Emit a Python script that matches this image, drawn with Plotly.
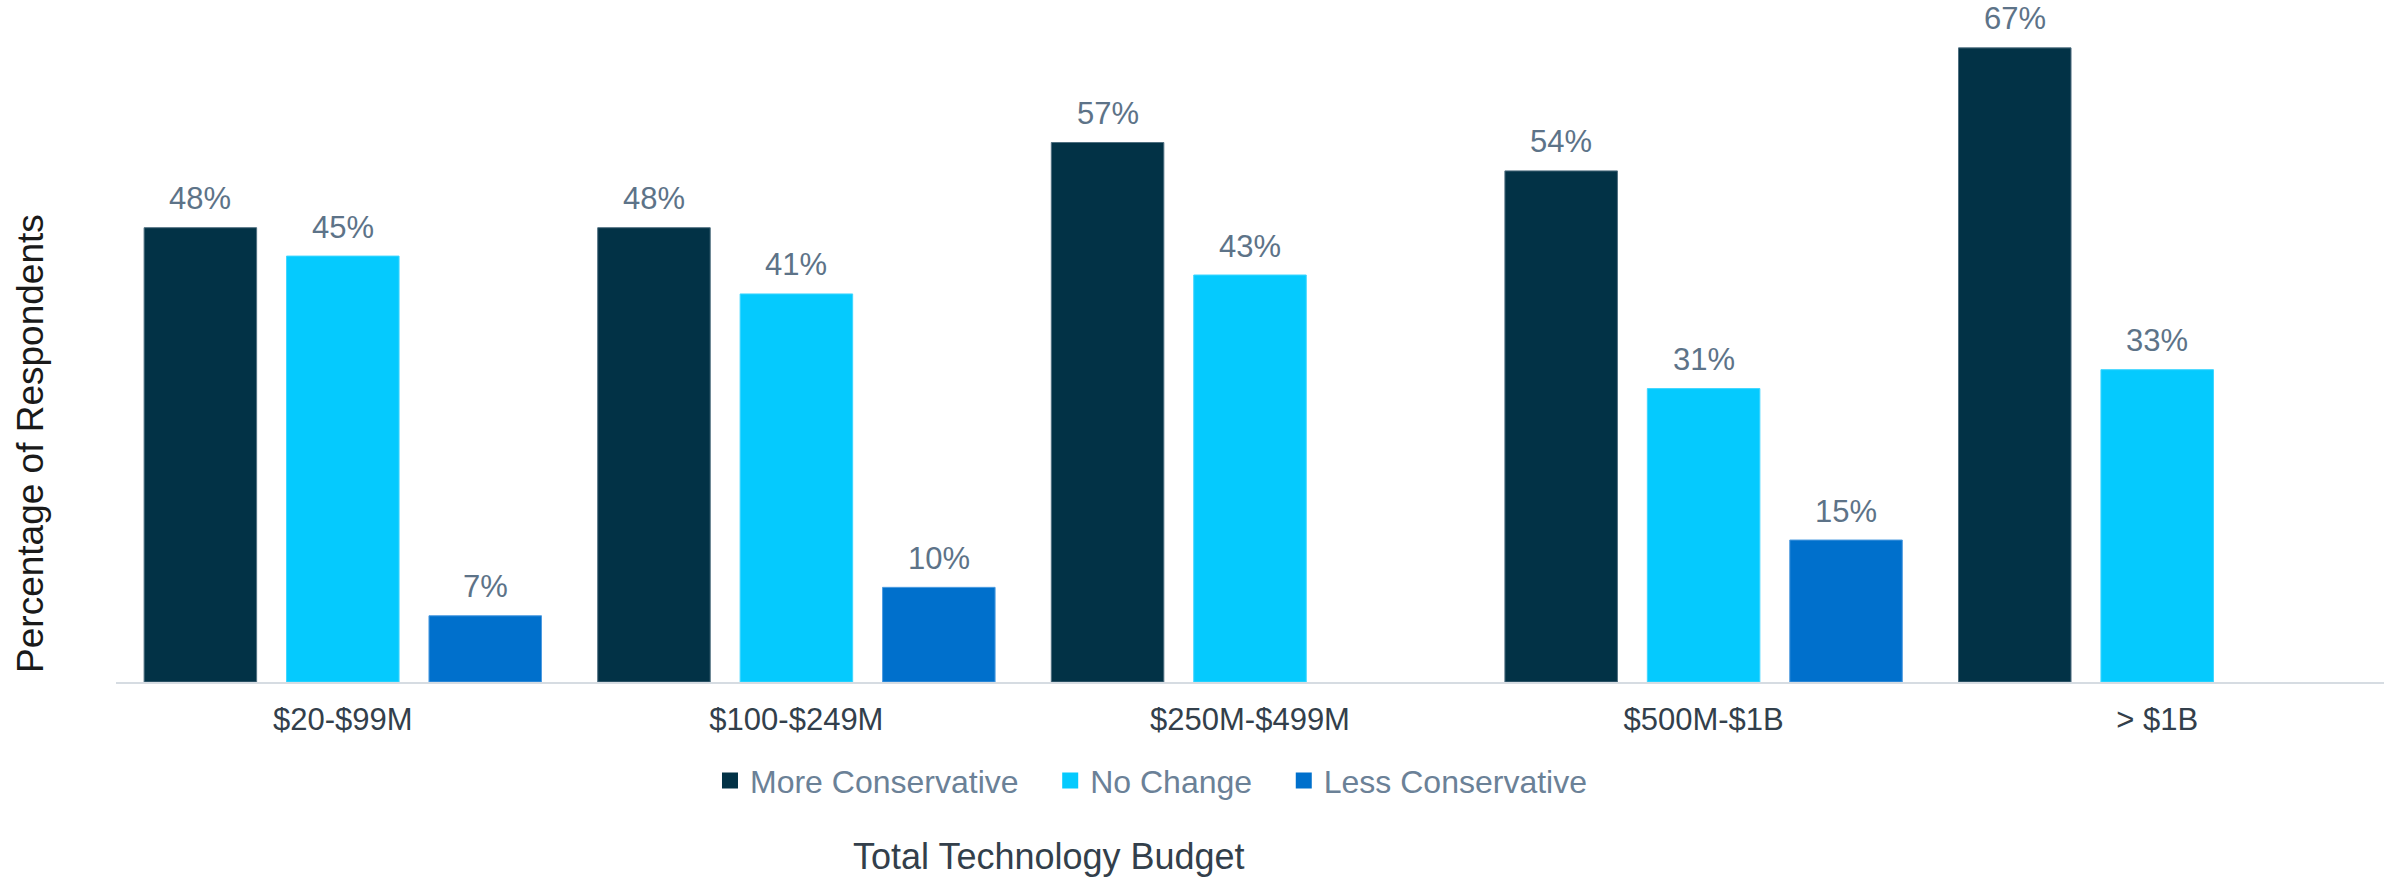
import plotly.graph_objects as go

# Survey results by total technology budget
budgets = ["$20-$99M", "$100-$249M", "$250M-$499M", "$500M-$1B", "> $1B"]
more_conservative = [48, 48, 57, 54, 67]
no_change = [45, 41, 43, 31, 33]
less_conservative = [7, 10, None, 15, None]

series_names = ["More Conservative", "No Change", "Less Conservative"]
series_values = [more_conservative, no_change, less_conservative]
series_colors = ["#023246", "#05CAFE", "#0070CC"]
series_edges = ["#4f6f80", "#3fd6ff", "#4d9be0"]

FONT = "Liberation Sans, Arial, sans-serif"
NBSP = "\u00a0"

W, H = 2394, 878
MARGIN = dict(l=116, r=10, t=10, b=196)
BARGAP = 0.058
BARGROUPGAP = 0.21

fig = go.Figure()

# bars
for name, values, color, edge in zip(series_names, series_values, series_colors, series_edges):
    fig.add_trace(go.Bar(
        name=name,
        x=budgets,
        y=values,
        marker=dict(color=color, line=dict(color=edge, width=1)),
        showlegend=False,
        hoverinfo="skip",
    ))

# legend entries with larger square swatches
for name, color in zip(series_names, series_colors):
    fig.add_trace(go.Scatter(
        name=name + NBSP * 3,
        x=[None],
        y=[None],
        mode="markers",
        marker=dict(symbol="square", size=16, color=color),
        showlegend=True,
        hoverinfo="skip",
    ))

# value labels above each bar, shifted to the bar's slot within its group
plot_w = W - MARGIN["l"] - MARGIN["r"]
slot_px = plot_w / len(budgets) * (1 - BARGAP) / len(series_values)
annotations = []
for k, values in enumerate(series_values):
    shift = (k - (len(series_values) - 1) / 2) * slot_px
    for cat, v in zip(budgets, values):
        if v is None:
            continue
        annotations.append(dict(
            text=f"{v}%",
            x=cat, y=v, xref="x", yref="y",
            xshift=shift, yshift=29,
            xanchor="center", yanchor="middle",
            showarrow=False,
            font=dict(family=FONT, size=31, color="#5d7388"),
        ))

annotations += [
    dict(
        text="Percentage of Respondents",
        xref="paper", yref="paper",
        x=-0.0375, y=0.3557,
        xanchor="center", yanchor="middle",
        textangle=-90,
        showarrow=False,
        font=dict(family=FONT, size=37, color="#1a1a1a"),
    ),
    dict(
        text="Total Technology Budget",
        xref="paper", yref="paper",
        x=0.4114, y=-0.2604,
        xanchor="center", yanchor="middle",
        showarrow=False,
        font=dict(family=FONT, size=36, color="#333f4b"),
    ),
]

fig.update_layout(
    width=W,
    height=H,
    margin=MARGIN,
    paper_bgcolor="white",
    plot_bgcolor="white",
    barmode="group",
    bargap=BARGAP,
    bargroupgap=BARGROUPGAP,
    font=dict(family=FONT),
    showlegend=True,
    legend=dict(
        orientation="h",
        x=0.2619,
        xanchor="left",
        y=-0.147,
        yanchor="middle",
        font=dict(family=FONT, size=32, color="#6b8197"),
        traceorder="normal",
        itemclick=False,
        itemdoubleclick=False,
    ),
    xaxis=dict(
        showline=True,
        linecolor="#d6dce2",
        linewidth=2,
        ticks="",
        ticklabelstandoff=9,
        tickfont=dict(family=FONT, size=31, color="#333f4b"),
        showgrid=False,
        zeroline=False,
    ),
    yaxis=dict(
        range=[0, 71],
        showticklabels=False,
        showgrid=False,
        zeroline=False,
        showline=False,
        ticks="",
    ),
    annotations=annotations,
)

fig.write_html("out.html")
